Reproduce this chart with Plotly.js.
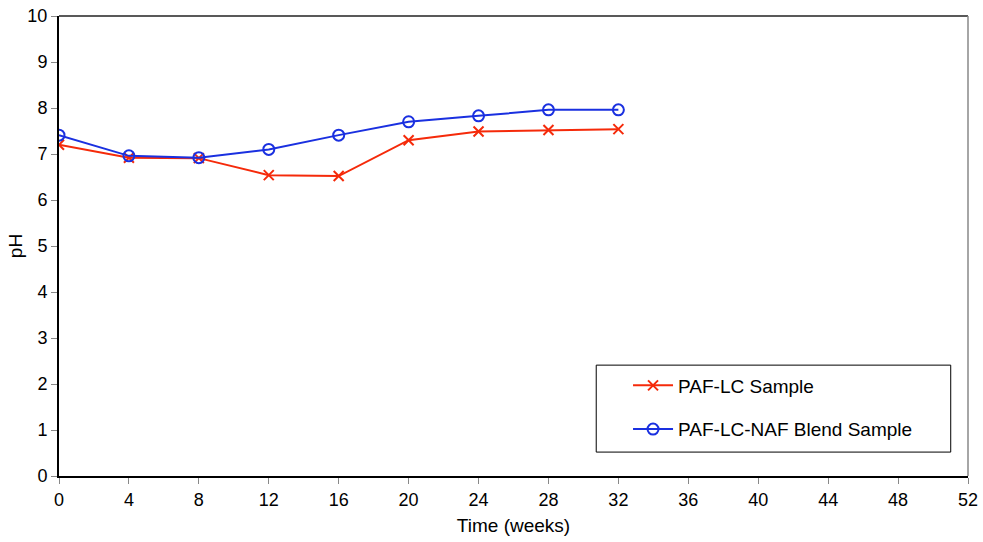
<!DOCTYPE html>
<html>
<head>
<meta charset="utf-8">
<script src="https://cdn.plot.ly/plotly-3.0.1.min.js"></script>
<style>html,body{margin:0;padding:0;background:#fff;}#chart{width:983px;height:542px;}</style>
</head>
<body>
<div id="chart"></div>
<script>
const weeks = [0, 4, 8, 12, 16, 20, 24, 28, 32];
const pafLC = [7.20, 6.92, 6.91, 6.54, 6.52, 7.30, 7.49, 7.52, 7.54];
const pafLCNAF = [7.41, 6.96, 6.92, 7.10, 7.41, 7.70, 7.83, 7.96, 7.96];
const seriesNames = ['PAF-LC Sample', 'PAF-LC-NAF Blend Sample'];
const xTicks = [0, 4, 8, 12, 16, 20, 24, 28, 32, 36, 40, 44, 48, 52];
const yTicks = [0, 1, 2, 3, 4, 5, 6, 7, 8, 9, 10];

const font = {family: 'Liberation Sans, Arial, sans-serif', size: 18, color: '#000'};
const bigFont = {family: 'Liberation Sans, Arial, sans-serif', size: 19, color: '#000'};

const traces = [
  {x: weeks, y: pafLC, name: seriesNames[0], type: 'scatter', mode: 'lines+markers',
   legendgroup: 'a',
   line: {color: '#f52a0a', width: 2},
   marker: {symbol: 'x-thin-open', size: 10, color: '#f52a0a', line: {color: '#f52a0a', width: 2}}},
  {x: weeks, y: pafLCNAF, name: seriesNames[1], type: 'scatter', mode: 'lines+markers',
   legendgroup: 'b',
   line: {color: '#1a30e0', width: 2},
   marker: {symbol: 'circle-open', size: 11, color: '#1a30e0', line: {color: '#1a30e0', width: 2}}}
];

const layout = {
  width: 983, height: 542,
  margin: {l: 59, r: 15, t: 16, b: 66},
  paper_bgcolor: '#fff', plot_bgcolor: '#fff',
  font: font,
  showlegend: true,
  legend: {x: 0.626, y: 0.238, xanchor: 'left', yanchor: 'top',
           bgcolor: 'rgba(0,0,0,0)', borderwidth: 0,
           font: bigFont,
           tracegroupgap: 16, traceorder: 'grouped', itemwidth: 40},
  xaxis: {range: [0, 52], tickvals: xTicks, ticktext: xTicks.map(String),
          showgrid: false, zeroline: false, showline: true, linecolor: '#000', linewidth: 2,
          mirror: false, ticks: 'outside', ticklen: 6, tickcolor: '#888', tickwidth: 1,
          tickfont: font,
          title: {text: 'Time (weeks)', font: bigFont, standoff: 10}},
  yaxis: {range: [0, 10], tickvals: yTicks, ticktext: yTicks.map(String),
          showgrid: false, zeroline: false, showline: true, linecolor: '#000', linewidth: 2,
          ticks: 'outside', ticklen: 6, tickcolor: '#888', tickwidth: 1,
          tickfont: font,
          title: {text: 'pH', font: bigFont, standoff: 0}},
  shapes: [
    {type: 'line', xref: 'paper', yref: 'paper', x0: 0, x1: 1, y0: 1, y1: 1,
     line: {color: '#222', width: 1.5}},
    {type: 'line', xref: 'paper', yref: 'paper', x0: 1, x1: 1, y0: 0, y1: 1,
     line: {color: '#888', width: 1.5}},
    {type: 'rect', xref: 'paper', yref: 'paper', x0: 0.591, x1: 0.981, y0: 0.052, y1: 0.241,
     line: {color: '#000', width: 1}, fillcolor: 'rgba(0,0,0,0)'}
  ]
};

Plotly.newPlot('chart', traces, layout, {displayModeBar: false, staticPlot: true});
</script>
</body>
</html>
